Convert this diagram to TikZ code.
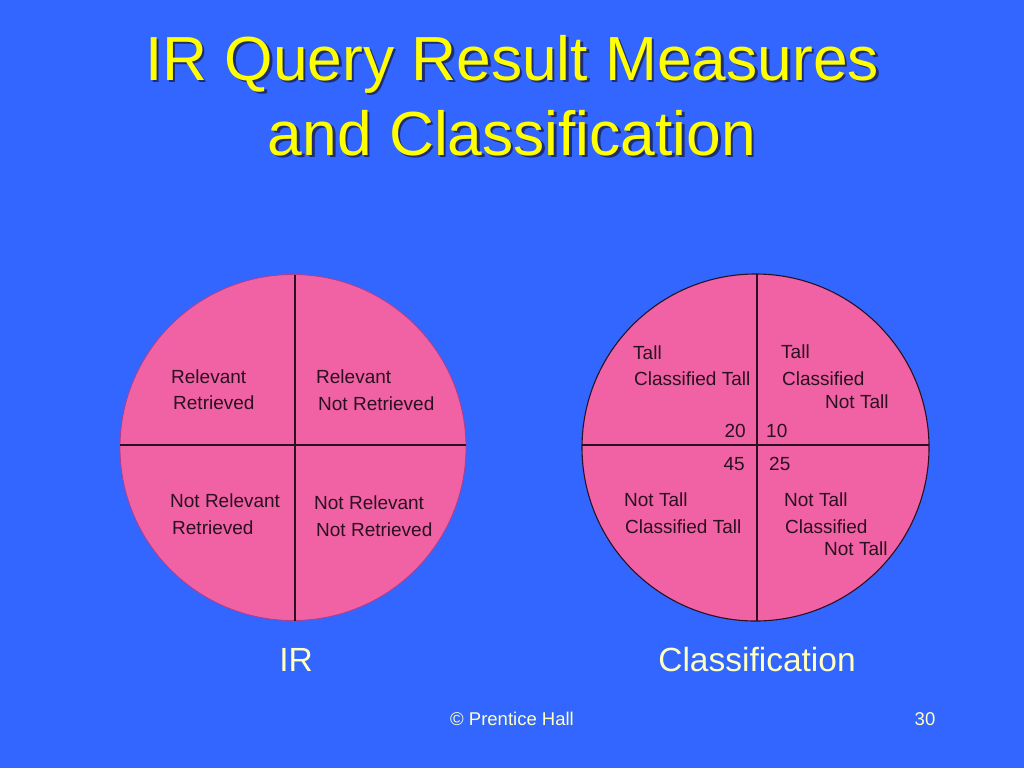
\documentclass[tikz,border=0pt]{standalone}
\usepackage{fontspec}
\setmainfont{Liberation Sans}
\definecolor{bgblue}{HTML}{3366FF}
\definecolor{pinkfill}{HTML}{F062A4}
\definecolor{titleyellow}{HTML}{FFFF00}
\definecolor{paleyellow}{HTML}{FFFFC0}
\definecolor{inktext}{HTML}{2A1020}
\definecolor{shadowc}{HTML}{1A2050}
\definecolor{leftrim}{HTML}{B03C8C}
\tikzset{
  ctext/.style={inner sep=0pt, anchor=base west, text=inktext, font=\fontsize{19}{22}\selectfont},
  cnum/.style={inner sep=0pt, text=inktext, font=\fontsize{19}{22}\selectfont},
  ttl/.style={inner sep=0pt, anchor=base, text=titleyellow, font=\fontsize{62.3}{75}\selectfont},
  ttlshadow/.style={inner sep=0pt, anchor=base, text=shadowc, opacity=0.8, font=\fontsize{62.3}{75}\selectfont},
  caption/.style={inner sep=0pt, anchor=base, text=paleyellow, font=\fontsize{33.5}{38}\selectfont},
  foot/.style={inner sep=0pt, anchor=base, text=paleyellow, font=\fontsize{18.5}{22}\selectfont},
  divider/.style={draw=inktext, line width=1.5pt},
}
\begin{document}
\begin{tikzpicture}[x=1pt,y=-1pt]
\useasboundingbox (0,0) rectangle (1024,768);
\fill[bgblue] (0,0) rectangle (1024,768);
% title
\node[ttlshadow] (t1s) at (514.5,82.5) {IR Query Result Measures};
\node[ttlshadow] (t2s) at (514.5,157.5) {and Classification};
\node[ttl] (t1) at (512,80) {IR Query Result Measures};
\node[ttl] (t2) at (512,155) {and Classification};
% left circle
\fill[pinkfill, draw=leftrim, line width=0.8pt] (293,447.5) circle (173);
\coordinate (lt) at (295,274.5);
\coordinate (lb) at (295,620.5);
\coordinate (ll) at (120,445);
\coordinate (lr) at (466,445);
\draw[divider] (lt) -- (lb);
\draw[divider] (ll) -- (lr);
\node[ctext] (a1) at (171,383) {Relevant};
\node[ctext] (a2) at (173,409) {Retrieved};
\node[ctext] (b1) at (316,383) {Relevant};
\node[ctext] (b2) at (318,410) {Not Retrieved};
\node[ctext] (c1) at (170,507) {Not Relevant};
\node[ctext] (c2) at (172,534) {Retrieved};
\node[ctext] (d1) at (314,509) {Not Relevant};
\node[ctext] (d2) at (316,536) {Not Retrieved};
% right circle
\fill[pinkfill, draw=inktext, line width=1.1pt] (755.5,447.5) circle (173.5);
\coordinate (rt) at (757,274);
\coordinate (rb) at (757,621);
\coordinate (rl) at (582,445);
\coordinate (rr) at (929,445);
\draw[divider] (rt) -- (rb);
\draw[divider] (rl) -- (rr);
\node[ctext] (e1) at (633,359) {Tall};
\node[ctext] (e2) at (634,385) {Classified Tall};
\node[ctext] (f1) at (781,358) {Tall};
\node[ctext] (f2) at (782,385) {Classified};
\node[ctext] (f3) at (825,408) {Not Tall};
\node[cnum, anchor=base east] (n20) at (746,437) {20};
\node[cnum, anchor=base west] (n10) at (766,437) {10};
\node[cnum, anchor=base east] (n45) at (745,470) {45};
\node[cnum, anchor=base west] (n25) at (769,470) {25};
\node[ctext] (g1) at (624,506) {Not Tall};
\node[ctext] (g2) at (625,533) {Classified Tall};
\node[ctext] (h1) at (784,506) {Not Tall};
\node[ctext] (h2) at (785,533) {Classified};
\node[ctext] (h3) at (824,555) {Not Tall};
% captions
\node[caption] (capir) at (296,671) {IR};
\node[caption] (capcl) at (757,671) {Classification};
% footer
\node[foot] (copy) at (512,725) {© Prentice Hall};
\node[foot] (page) at (925,725) {30};
\end{tikzpicture}
\end{document}
